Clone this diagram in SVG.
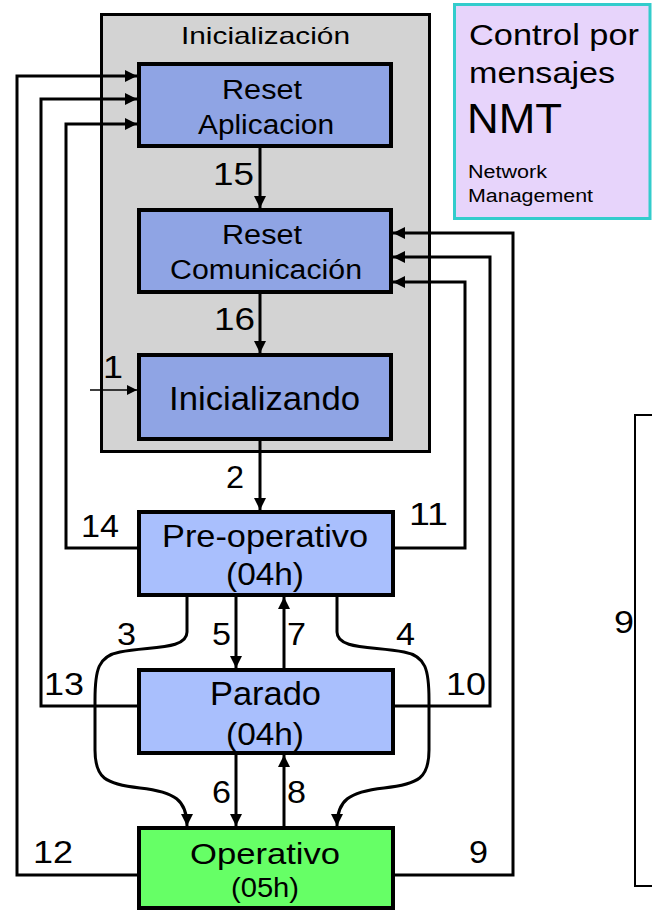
<svg xmlns="http://www.w3.org/2000/svg" width="652" height="913" viewBox="0 0 652 913">
<style>
text{font-family:"Liberation Sans",Arial,sans-serif;fill:#000}
.st{stroke:#000;stroke-width:4}
.reset{fill:#8fa4e4}
.light{fill:#a9bffd}
.green{fill:#66ff66}
.num{font-size:31px}
.c{fill:none;stroke:#000;stroke-width:3}
.thin{fill:none;stroke:#000;stroke-width:1.5}
</style>
<defs>
<marker id="ah" markerUnits="userSpaceOnUse" markerWidth="12" markerHeight="12" refX="12" refY="6" orient="auto" viewBox="0 0 12 12">
<path d="M0,0 L12,6 L0,12 z" fill="#000"/>
</marker>
<marker id="ahs" markerUnits="userSpaceOnUse" markerWidth="10" markerHeight="10" refX="10" refY="5" orient="auto" viewBox="0 0 10 10">
<path d="M0,0 L10,5 L0,10 z" fill="#000"/>
</marker>
</defs>
<rect width="652" height="913" fill="#fff"/>

<g id="nmt">
<rect x="454.5" y="4.5" width="195.5" height="214" fill="#e7d4fb" stroke="#33cccc" stroke-width="3"/>
<text x="469" y="45" font-size="29" textLength="170" lengthAdjust="spacingAndGlyphs">Control por</text>
<text x="469" y="83" font-size="29" textLength="146" lengthAdjust="spacingAndGlyphs">mensajes</text>
<text x="467" y="133" font-size="42" textLength="95" lengthAdjust="spacingAndGlyphs">NMT</text>
<text x="468" y="178" font-size="18" textLength="79" lengthAdjust="spacingAndGlyphs">Network</text>
<text x="468" y="202" font-size="18" textLength="125" lengthAdjust="spacingAndGlyphs">Management</text>
</g>

<g id="inicializacion">
<rect x="101.5" y="14.5" width="328" height="437" fill="#d3d3d3" stroke="#000" stroke-width="3"/>
<text x="181" y="44" font-size="24" textLength="169" lengthAdjust="spacingAndGlyphs">Inicialización</text>
</g>

<g id="partial">
<path d="M652,415 L635,415 L635,886 L652,886" fill="none" stroke="#000" stroke-width="2"/>
<text class="num" x="614" y="633" textLength="20" lengthAdjust="spacingAndGlyphs">9</text>
</g>

<g id="connectors">
<path class="c" d="M260,148 L260,208" marker-end="url(#ah)"/>
<path class="c" d="M260,294 L260,353" marker-end="url(#ah)"/>
<path class="c" d="M260,441 L260,510" marker-end="url(#ah)"/>
<path class="thin" d="M90,390 L137,390" marker-end="url(#ahs)"/>
<path class="c" d="M236,597 L236,668" marker-end="url(#ah)"/>
<path class="c" d="M284,668 L284,597" marker-end="url(#ah)"/>
<path class="c" d="M236,755 L236,826" marker-end="url(#ah)"/>
<path class="c" d="M284,826 L284,755" marker-end="url(#ah)"/>
<path class="c" d="M187,597 L187,632 C187,650 150,646 120,652 C98,656 95,670 95,700 L95,750 C95,778 105,784 140,788 C175,792 187,800 187,826" marker-end="url(#ah)"/>
<path class="c" d="M337,597 L337,632 C337,650 374,646 404,652 C426,656 429,670 429,700 L429,750 C429,778 419,784 384,788 C349,792 337,800 337,826" marker-end="url(#ah)"/>
<path class="c" d="M137,548 L66,548 L66,124 L137,124" marker-end="url(#ah)"/>
<path class="c" d="M137,706 L41,706 L41,99 L137,99" marker-end="url(#ah)"/>
<path class="c" d="M137,875 L17,875 L17,76 L137,76" marker-end="url(#ah)"/>
<path class="c" d="M393,548 L465,548 L465,282 L393,282" marker-end="url(#ah)"/>
<path class="c" d="M393,706 L490,706 L490,257 L393,257" marker-end="url(#ah)"/>
<path class="c" d="M393,875 L513,875 L513,233 L393,233" marker-end="url(#ah)"/>
<g class="num">
<text x="213" y="185" textLength="41" lengthAdjust="spacingAndGlyphs">15</text>
<text x="214" y="330" textLength="41" lengthAdjust="spacingAndGlyphs">16</text>
<text x="103" y="378" textLength="20" lengthAdjust="spacingAndGlyphs">1</text>
<text x="226" y="488" textLength="18" lengthAdjust="spacingAndGlyphs">2</text>
<text x="81" y="537" textLength="38" lengthAdjust="spacingAndGlyphs">14</text>
<text x="409" y="525" textLength="39" lengthAdjust="spacingAndGlyphs">11</text>
<text x="117" y="645" textLength="19" lengthAdjust="spacingAndGlyphs">3</text>
<text x="212" y="645" textLength="19" lengthAdjust="spacingAndGlyphs">5</text>
<text x="287" y="645" textLength="19" lengthAdjust="spacingAndGlyphs">7</text>
<text x="396" y="645" textLength="19" lengthAdjust="spacingAndGlyphs">4</text>
<text x="44" y="695" textLength="40" lengthAdjust="spacingAndGlyphs">13</text>
<text x="446" y="695" textLength="40" lengthAdjust="spacingAndGlyphs">10</text>
<text x="212" y="803" textLength="19" lengthAdjust="spacingAndGlyphs">6</text>
<text x="287" y="803" textLength="19" lengthAdjust="spacingAndGlyphs">8</text>
<text x="33" y="863" textLength="40" lengthAdjust="spacingAndGlyphs">12</text>
<text x="469" y="863" textLength="19" lengthAdjust="spacingAndGlyphs">9</text>
</g>
</g>

<g id="reset-aplicacion">
<rect class="st reset" x="139" y="64" width="252" height="82"/>
<text x="222" y="99" font-size="27" textLength="80" lengthAdjust="spacingAndGlyphs">Reset</text>
<text x="198" y="134" font-size="27" textLength="136" lengthAdjust="spacingAndGlyphs">Aplicacion</text>
</g>
<g id="reset-comunicacion">
<rect class="st reset" x="139" y="210" width="252" height="82"/>
<text x="222" y="244" font-size="27" textLength="80" lengthAdjust="spacingAndGlyphs">Reset</text>
<text x="170" y="279" font-size="27" textLength="192" lengthAdjust="spacingAndGlyphs">Comunicación</text>
</g>
<g id="inicializando">
<rect class="st reset" x="139" y="355" width="252" height="84"/>
<text x="169" y="410" font-size="33" textLength="191" lengthAdjust="spacingAndGlyphs">Inicializando</text>
</g>
<g id="pre-operativo">
<rect class="st light" x="139" y="512" width="254" height="83"/>
<text x="162" y="547" font-size="32" textLength="206" lengthAdjust="spacingAndGlyphs">Pre-operativo</text>
<text x="226" y="585" font-size="32" textLength="78" lengthAdjust="spacingAndGlyphs">(04h)</text>
</g>
<g id="parado">
<rect class="st light" x="139" y="670" width="254" height="83"/>
<text x="210" y="705" font-size="33" textLength="111" lengthAdjust="spacingAndGlyphs">Parado</text>
<text x="226" y="745" font-size="32" textLength="78" lengthAdjust="spacingAndGlyphs">(04h)</text>
</g>
<g id="operativo">
<rect class="st green" x="139" y="828" width="254" height="80"/>
<text x="190" y="864" font-size="30" textLength="150" lengthAdjust="spacingAndGlyphs">Operativo</text>
<text x="231" y="897" font-size="27" textLength="68" lengthAdjust="spacingAndGlyphs">(05h)</text>
</g>
</svg>
